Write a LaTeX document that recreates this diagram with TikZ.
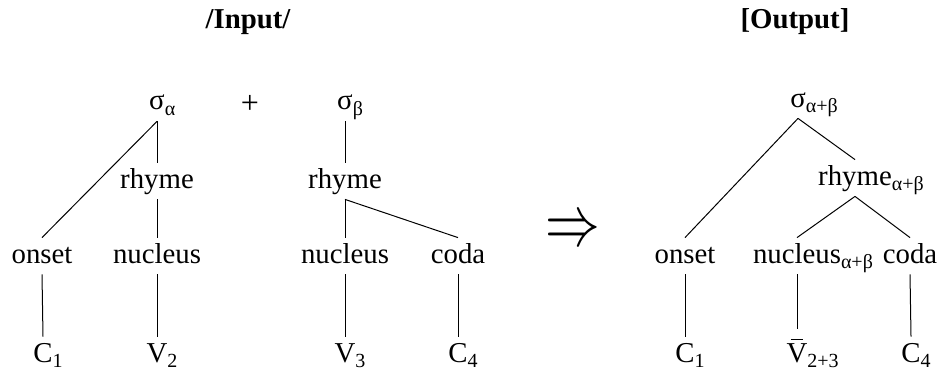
\documentclass[tikz,border=0pt]{standalone}
\usepackage{fontspec}
\setmainfont{Liberation Serif}
\newcommand{\subtxt}[1]{\rlap{\raisebox{-0.4ex}{\fontsize{10}{10}\selectfont #1}}}
\newcommand{\barV}{\ooalign{V\cr\hidewidth\raisebox{0.76em}{\rule{0.42em}{0.05em}}\hidewidth\cr}}
\tikzset{
  tnode/.style={anchor=base, inner sep=2.5pt, text height=10pt, text depth=3pt, font=\fontsize{14.4}{17}\selectfont},
  ttitle/.style={inner sep=0.75pt, font=\fontsize{14.4}{17}\selectfont\bfseries},
  branch/.style={line width=0.5pt}
}
\begin{document}
\begin{tikzpicture}[x=0.5pt,y=0.5pt,yscale=-1,xscale=1]
\useasboundingbox (0,0) rectangle (940,369);

% Titles
\node [ttitle] (tin) at (248,22) {/Input/};
\node [ttitle] (tout) at (795,22) {[Output]};

% Input, first syllable
\node [tnode] (sa) at (157,110) {σ\subtxt{α}};
\node [tnode] (rha) at (157,188) {rhyme};
\node [tnode] (ona) at (42,263) {onset};
\node [tnode] (nua) at (157,263) {nucleus};
\node [tnode] (c1a) at (43,362) {C\subtxt{1}};
\node [tnode] (v2) at (157,362) {V\subtxt{2}};

% Text Node
\node [tnode, font=\fontsize{16}{17}\selectfont] (plus) at (250,113) {+};

% Input, second syllable
\node [tnode] (sb) at (345,110) {σ\subtxt{β}};
\node [tnode] (rhb) at (345,188) {rhyme};
\node [tnode] (nub) at (345,263) {nucleus};
\node [tnode] (cob) at (458,263) {coda};
\node [tnode] (v3) at (345,362) {V\subtxt{3}};
\node [tnode] (c4b) at (458,362) {C\subtxt{4}};

% Arrow
\node [inner sep=0pt, font=\fontsize{26}{26}\selectfont] (arr) at (573,232) {\scalebox{1.1}[1.45]{$\Rightarrow$}};

% Output syllable
\node [tnode] (sab) at (798,107) {σ\subtxt{α+β}};
\node [tnode] (rhab) at (855,185) {rhyme\subtxt{α+β}};
\node [tnode] (onab) at (685,263) {onset};
\node [tnode] (nuab) at (797,263) {nucleus\subtxt{α+β}};
\node [tnode] (coab) at (910,263) {coda};
\node [tnode] (c1ab) at (685,362) {C\subtxt{1}};
\node [tnode, text height=14pt] (vab) at (797,362) {\barV\subtxt{2+3}};
\node [tnode] (c4ab) at (911,362) {C\subtxt{4}};

%Shape: Lines, input
\draw [branch] (sa.south) -- (ona.north);
\draw [branch] (sa.south) -- (rha.north);
\draw [branch] (rha.south) -- (nua.north);
\draw [branch] (ona.south) -- (c1a.north);
\draw [branch] (nua.south) -- (v2.north);
\draw [branch] (sb.south) -- (rhb.north);
\draw [branch] (rhb.south) -- (nub.north);
\draw [branch] (rhb.south) -- (cob.north);
\draw [branch] (nub.south) -- (v3.north);
\draw [branch] (cob.south) -- (c4b.north);

%Shape: Lines, output
\draw [branch] (sab.south) -- (onab.north);
\draw [branch] (sab.south) -- (rhab.north);
\draw [branch] (rhab.south) -- (nuab.north);
\draw [branch] (rhab.south) -- (coab.north);
\draw [branch] (onab.south) -- (c1ab.north);
\draw [branch] (nuab.south) -- (vab.north);
\draw [branch] (coab.south) -- (c4ab.north);

\end{tikzpicture}
\end{document}
